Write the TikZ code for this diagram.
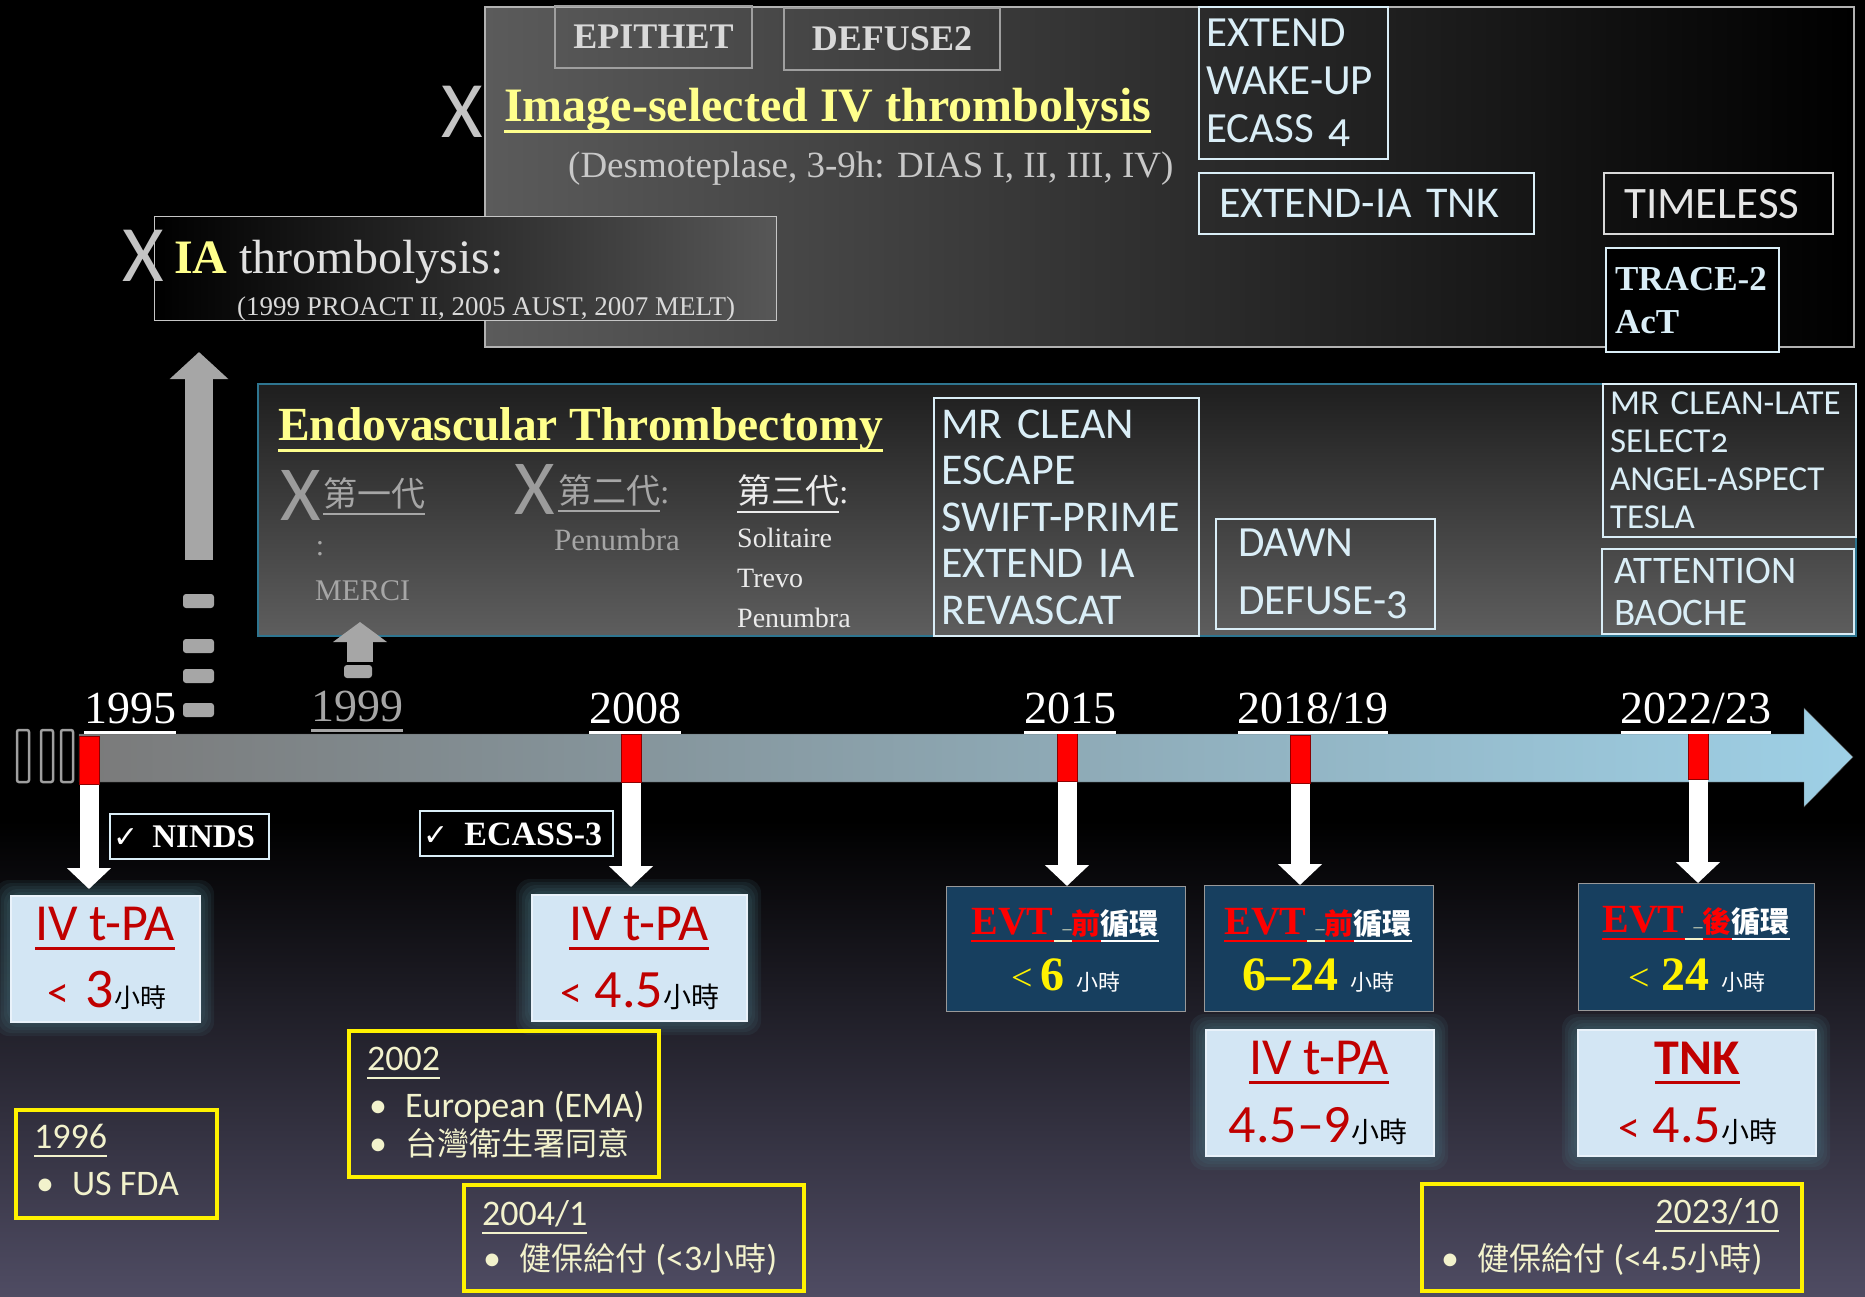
\documentclass[tikz,border=0pt]{standalone}
\usepackage{fontspec}
\setmainfont{Liberation Serif}
\setsansfont{Carlito}
\newfontfamily\cjk{Noto Sans CJK TC}
\newfontfamily\symf{DejaVu Sans}
\newfontfamily\trialf{Carlito}[Numbers=OldStyle]
\usetikzlibrary{arrows.meta}

\definecolor{bgbot}{HTML}{4F4C63}
\definecolor{hlyellow}{HTML}{FFFF8C}
\definecolor{trialtxt}{HTML}{DAEEF7}
\definecolor{greyx}{HTML}{C4C4C4}
\definecolor{dimx}{HTML}{9C9C9C}
\definecolor{dimtxt}{HTML}{A6A6A6}
\definecolor{descgrey}{HTML}{C8C8C8}
\definecolor{ivred}{HTML}{C00000}
\definecolor{ivfill}{HTML}{D3E6F4}
\definecolor{evtnavy}{HTML}{173F5F}
\definecolor{cream}{HTML}{F2F2CC}
\definecolor{endoline}{HTML}{2E7590}
\definecolor{glowc}{HTML}{4A7A86}
\definecolor{panelgrey}{HTML}{5B5B5B}
\definecolor{iagrey}{HTML}{575757}
\definecolor{endotop}{HTML}{1E1E1E}
\definecolor{endobot}{HTML}{5E5E5E}
\definecolor{tlleft}{HTML}{7A7A7A}
\definecolor{tlright}{HTML}{9ED0E6}
\definecolor{upgrey}{HTML}{A6A6A6}

\newcommand\fsz[1]{\fontsize{#1}{#1}\selectfont}
% underline with a rule of our own (raise, text)
\newcommand\undl[2][10pt]{\leavevmode\setbox0=\hbox{#2}\rlap{\rule[-#1]{\wd0}{3pt}}\box0}
\newcommand\undlt[2][8pt]{\leavevmode\setbox0=\hbox{#2}\rlap{\rule[-#1]{\wd0}{2pt}}\box0}
\newcommand\evthead[1]{%
  {\color{red}\undlt{\bfseries\fsz{40}EVT}}%
  {\color{cream}\undlt{\hspace{9pt}\fsz{18}--}}%
  {\color{red}\undlt{\cjk\bfseries\fsz{29}#1}}%
  {\color{white}\undlt{\cjk\bfseries\fsz{29}循環}}}

\begin{document}
\begin{tikzpicture}[x=1pt,y=-1pt,
  trial/.style={draw=trialtxt, line width=2.2pt, text=trialtxt, align=left, anchor=north west, inner ysep=0pt},
  serbox/.style={draw=gray!75, line width=2pt, text=gray!30, anchor=north west, inner sep=0pt, font=\bfseries\fsz{36}},
  ivbox/.style={fill=ivfill, draw=ivfill!50!white, line width=1.5pt, anchor=north west, inner sep=0pt},
  evtbox/.style={fill=evtnavy, draw=gray!80, line width=1.2pt, anchor=north west, inner sep=0pt},
  ybox/.style={draw=yellow, line width=4pt, anchor=north west, inner sep=0pt},
  chkbox/.style={fill=black, draw=trialtxt, line width=2pt, anchor=north west, inner sep=0pt},
  redmark/.style={fill=red, draw=red!55!black, line width=1pt, minimum width=20pt, minimum height=48pt, inner sep=0pt},
  lbl/.style={anchor=base west, inner sep=0pt},
  ctr/.style={anchor=base, inner sep=0pt},
  bigx/.style={anchor=north west, inner sep=0pt, font=\sffamily\fsz{80}},
  ytx/.style={lbl, text=cream, font=\sffamily\fsz{36}},
  whitedown/.style={white, line width=19pt, -{Triangle[width=43pt,length=21pt]}},
  greyup/.style={color=upgrey, line width=28pt, -{Triangle[width=57pt,length=27pt]}},
]
\useasboundingbox (0,0) rectangle (1865,1297);
\fill[black] (0,0) rectangle (1865,1297);
\shade[top color=black, bottom color=bgbot] (0,820) rectangle (1865,1297);

% image-selected IV thrombolysis
\shade[left color=panelgrey, right color=black, draw=gray!60, line width=1.5pt] (485,7) rectangle (1854,347);
\node[serbox, minimum width=197pt, minimum height=62pt] (epithet) at (554,5) {EPITHET};
\node[serbox, minimum width=216pt, minimum height=62pt] (defuse2) at (783,7) {DEFUSE2};
\node[bigx, text=greyx] (xivt) at (441,86) {X};
\node[lbl, text=hlyellow, font=\bfseries\fsz{48}] (ivthead) at (504,122) {\undl[11.5pt]{Image-selected IV thrombolysis}};
\node[lbl, text=descgrey, font=\fsz{37}] (desmo) at (568,178) {(Desmoteplase, 3-9h: DIAS I, II, III, IV)};
\node[trial, font=\trialf\fontsize{43}{48}\selectfont, minimum width=189pt, minimum height=152pt, text width=175pt, inner xsep=7pt] (extend) at (1198,6) {EXTEND\\WAKE-UP\\ECASS 4};
\node[trial, font=\trialf\fsz{44}, minimum width=335pt, minimum height=61pt, text width=295pt, inner xsep=20pt] (extia) at (1198,172) {EXTEND-IA TNK};
\node[trial, draw=gray!30, text=gray!20, font=\trialf\fsz{45}, minimum width=229pt, minimum height=61pt, text width=189pt, inner xsep=20pt] (timeless) at (1603,172) {TIMELESS};
\node[trial, fill=black, font=\bfseries\fontsize{35}{43}\selectfont, minimum width=173pt, minimum height=104pt, text width=155pt, inner xsep=9pt] (trace) at (1605,247) {TRACE-2\\AcT};

% IA thrombolysis
\shade[left color=black, right color=iagrey, draw=gray!45, line width=1pt] (154,217) rectangle (776,320);
\node[bigx, text=greyx] (xia) at (122,230) {X};
\node[lbl, text=white!88!black, font=\fsz{48}] (iahead) at (174,273) {\textcolor{hlyellow}{\bfseries IA} thrombolysis:};
\node[lbl, text=white!85!black, font=\fsz{27}] (iatrials) at (237,315) {(1999 PROACT II, 2005 AUST, 2007 MELT)};

\coordinate (gbot) at (199,560);
\coordinate (gtop) at (199,352);
\draw[greyup] (gbot) -- (gtop);
\foreach \y in {594,639,669,703}{\fill[upgrey, rounded corners=3pt] (183,\y) rectangle (214,\y+14);}

% endovascular thrombectomy
\shade[top color=endotop, bottom color=endobot, draw=endoline, line width=2pt] (258,384) rectangle (1856,636);
\node[lbl, text=hlyellow, font=\bfseries\fsz{47.5}] (evthead) at (278,440) {\undl[11.5pt]{Endovascular Thrombectomy}};
\node[bigx, text=dimx, font=\sffamily\fsz{78}] (xgen1) at (280,470) {X};
\node[lbl, text=dimtxt, font=\cjk\fsz{34}] (gen1) at (323,506) {\undlt[9pt]{第一代}};
\node[ctr, text=dimtxt, font=\fsz{30}] (gen1c) at (320,555) {:};
\node[lbl, text=dimtxt, font=\fsz{30}] (merci) at (315,600) {MERCI};
\node[bigx, text=dimx, font=\sffamily\fsz{78}] (xgen2) at (514,464) {X};
\node[lbl, text=dimtxt, font=\fsz{34}] (gen2) at (558,503) {\undlt[9pt]{\cjk 第二代}:};
\node[lbl, text=dimtxt, font=\fsz{31}] (penA) at (554,550) {Penumbra};
\node[lbl, text=white!92!black, font=\fsz{34}] (gen3) at (737,503) {\undlt[10pt]{\cjk 第三代}:};
\foreach \n/\y/\dev in {sol/547/Solitaire, trevo/587/Trevo, penB/627/Penumbra}{
  \node[lbl, text=white!92!black, font=\fsz{28}] (\n) at (737,\y) {\dev};
}
\node[trial, font=\trialf\fontsize{44}{46.6}\selectfont, minimum width=265pt, minimum height=238pt, text width=251pt, inner xsep=7pt] (mrclean) at (933,397) {MR CLEAN\\ESCAPE\\SWIFT-PRIME\\EXTEND IA\\REVASCAT};
\node[trial, font=\trialf\fontsize{43}{58}\selectfont, minimum width=219pt, minimum height=110pt, text width=175pt, inner xsep=22pt] (dawn) at (1215,518) {DAWN\\DEFUSE-3};
\node[trial, font=\trialf\fontsize{35}{38}\selectfont, minimum width=253pt, minimum height=153pt, text width=239pt, inner xsep=7pt] (late) at (1602,383) {MR CLEAN-LATE\\SELECT2\\ANGEL-ASPECT\\TESLA};
\node[trial, font=\trialf\fontsize{39}{42}\selectfont, minimum width=252pt, minimum height=85pt, text width=228pt, inner xsep=12pt] (attn) at (1601,548) {ATTENTION\\BAOCHE};

\coordinate (mbot) at (360,662);
\coordinate (mtop) at (360,622);
\draw[greyup, line width=26pt, -{Triangle[width=53pt,length=20pt]}] (mbot) -- (mtop);
\fill[upgrey, rounded corners=3pt] (344,665) rectangle (372,678);

% timeline
\shade[left color=tlleft, right color=tlright, draw=gray!60!black] (79,734) -- (1804,734) -- (1804,708) -- (1853,757) -- (1804,807) -- (1804,782) -- (79,782) -- cycle;
\foreach \x in {17,41,61}{\draw[gray!75, line width=2.5pt, rounded corners=2pt] (\x,730) rectangle (\x+12,782);}
\foreach \n/\x/\y in {1/89/760, 2/631/758, 3/1067/757, 4/1300/759, 5/1698/755}{
  \node[redmark] (m\n) at (\x,\y) {};
}
\foreach \n/\x/\yr in {a/130/1995, c/635/2008, d/1070/2015, e/1313/{2018/19}, f/1696/{2022/23}}{
  \node[ctr, text=white, font=\fsz{46}] (yr\n) at (\x,723) {\undl[10.5pt]{\yr}};
}
\node[ctr, text=dimtxt, font=\fsz{46}] (yrb) at (357,721) {\undl[10.5pt]{1999}};

\node[chkbox, minimum width=159pt, minimum height=45pt] (ninds) at (109,813) {};
\node[lbl, text=white, font=\bfseries\fsz{33}] (nindst) at (113,847) {{\symf\mdseries\fsz{30}✓}\hspace{14pt}NINDS};
\node[chkbox, minimum width=193pt, minimum height=45pt] (ecass) at (419,810) {};
\node[lbl, text=white, font=\bfseries\fsz{34}] (ecasst) at (423,845) {{\symf\mdseries\fsz{30}✓}\hspace{16pt}ECASS-3};

% result boxes
\foreach \x/\y/\w/\h in {10/895/189/126, 531/894/215/126, 1205/1029/228/126, 1577/1029/238/126}{
  \foreach \k in {1,...,5}{
    \fill[glowc, opacity=0.12, rounded corners=14pt] (\x-3*\k,\y-3*\k) rectangle (\x+\w+3*\k,\y+\h+3*\k);
  }
}
\node[ivbox, minimum width=189pt, minimum height=126pt] (ivA) at (10,895) {};
\node[ivbox, minimum width=215pt, minimum height=126pt] (ivB) at (531,894) {};
\node[ivbox, minimum width=228pt, minimum height=126pt] (ivC) at (1205,1029) {};
\node[ivbox, minimum width=238pt, minimum height=126pt] (ivD) at (1577,1029) {};
\node[evtbox, minimum width=239pt, minimum height=125pt] (evtA) at (946,886) {};
\node[evtbox, minimum width=229pt, minimum height=126pt] (evtB) at (1204,885) {};
\node[evtbox, minimum width=236pt, minimum height=127pt] (evtC) at (1578,883) {};

\foreach \m/\b/\s in {1/ivA/6, 2/ivB/7, 3/evtA/0, 4/evtB/0, 5/evtC/0}{
  \draw[whitedown, shorten >=\s pt] (m\m.south) -- (m\m.south |- \b.north);
}

\node[ctr, text=ivred, font=\sffamily\fsz{52}] (ivAh) at (105,940) {\undl[10pt]{IV t-PA}};
\node[ctr, text=ivred, font=\sffamily] (ivAt) at (107,1007) {\fsz{44}<\hspace{16pt}\fsz{56}3{\cjk\color{black}\fsz{26}小時}};
\node[ctr, text=ivred, font=\sffamily\fsz{52}] (ivBh) at (639,940) {\undl[10pt]{IV t-PA}};
\node[ctr, text=ivred, font=\sffamily] (ivBt) at (640,1007) {\fsz{44}<\hspace{12pt}\fsz{54}4.5{\cjk\color{black}\fsz{28}小時}};
\node[ctr, text=ivred, font=\sffamily\fsz{52}] (ivCh) at (1319,1074) {\undl[10pt]{IV t-PA}};
\node[ctr, text=ivred, font=\sffamily] (ivCt) at (1318,1142) {\fsz{54}4.5--9{\cjk\color{black}\fsz{28}小時}};
\node[ctr, text=ivred, font=\sffamily\bfseries\fsz{50}] (ivDh) at (1697,1074) {\undl[10pt]{TNK}};
\node[ctr, text=ivred, font=\sffamily] (ivDt) at (1698,1142) {\fsz{44}<\hspace{12pt}\fsz{54}4.5{\cjk\color{black}\fsz{28}小時}};

\node[ctr] (evtAh) at (1065,934) {\evthead{前}};
\node[ctr, text=yellow] (evtAt) at (1066,990) {\fsz{38}<\hspace{8pt}\bfseries\fsz{48}6\hspace{12pt}{\cjk\mdseries\color{white}\fsz{22}小時}};
\node[ctr] (evtBh) at (1318,934) {\evthead{前}};
\node[ctr, text=yellow] (evtBt) at (1318,990) {\bfseries\fsz{48}6--24\hspace{12pt}{\cjk\mdseries\color{white}\fsz{22}小時}};
\node[ctr] (evtCh) at (1696,932) {\evthead{後}};
\node[ctr, text=yellow] (evtCt) at (1697,990) {\fsz{38}<\hspace{12pt}\bfseries\fsz{48}24\hspace{12pt}{\cjk\mdseries\color{white}\fsz{22}小時}};

% approvals
\node[ybox, minimum width=201pt, minimum height=108pt] (ybA) at (14,1108) {};
\node[ytx] (ybA1) at (34,1148) {\undlt[9pt]{1996}};
\node[ytx] (ybA2) at (36,1195) {•\hspace{18pt}US FDA};
\node[ybox, minimum width=310pt, minimum height=146pt] (ybB) at (347,1029) {};
\node[ytx] (ybB1) at (367,1070) {\undlt[9pt]{2002}};
\node[ytx] (ybB2) at (369,1117) {•\hspace{18pt}European (EMA)};
\node[ytx] (ybB3) at (369,1155) {•\hspace{18pt}{\cjk\fsz{32}台灣衛生署同意}};
\node[ybox, minimum width=340pt, minimum height=106pt] (ybC) at (462,1183) {};
\node[ytx] (ybC1) at (482,1225) {\undlt[9pt]{2004/1}};
\node[ytx] (ybC2) at (483,1270) {•\hspace{18pt}{\cjk\fsz{32}健保給付} (<3{\cjk\fsz{32}小時})};
\node[ybox, minimum width=380pt, minimum height=107pt] (ybD) at (1420,1182) {};
\node[ytx, anchor=base east] (ybD1) at (1779,1223) {\undlt[9pt]{2023/10}};
\node[ytx] (ybD2) at (1441,1270) {•\hspace{18pt}{\cjk\fsz{32}健保給付} (<4.5{\cjk\fsz{32}小時})};
\end{tikzpicture}
\end{document}
